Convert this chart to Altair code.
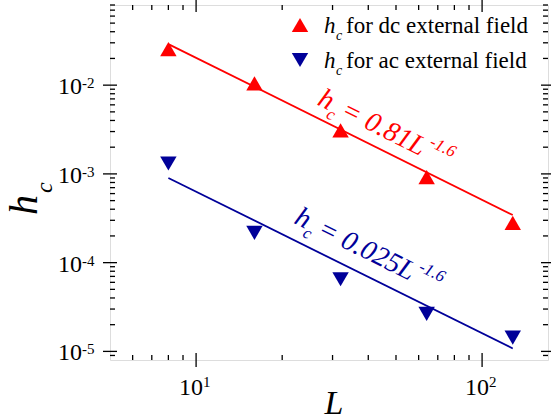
import altair as alt
import pandas as pd

# ---- data ----
L_vals = [8, 16, 32, 64, 128]
hc_dc = [0.0254, 0.0105, 0.0031, 0.00092, 0.00028]
hc_ac = [0.00131, 0.000216, 0.000065, 0.0000265, 0.0000143]
fit_L = [8, 128]
fit_dc = [0.029, 0.000344]
fit_ac = [0.0009, 0.0000108]

x_major = [10, 100]
x_exp = ["1", "2"]
x_minor = [6, 7, 8, 9, 20, 30, 40, 50, 60, 70, 80, 90]
y_major = [1e-5, 1e-4, 1e-3, 1e-2]
y_exp = ["-5", "-4", "-3", "-2"]
y_minor = ([9e-6] + [k * 1e-5 for k in range(2, 10)] + [k * 1e-4 for k in range(2, 10)]
           + [k * 1e-3 for k in range(2, 10)] + [k * 1e-2 for k in range(2, 9)])

legend_labels = ["for dc external field", "for ac external field"]
RED = "#ff0000"
BLUE = "#000099"
FONT = "Liberation Serif"

W, H = 438, 355
xs = alt.Scale(type="log", domain=[5, 170], nice=False)
ys = alt.Scale(type="log", domain=[8e-6, 0.08], nice=False)

def X(f):
    return alt.X(f, type="quantitative", scale=xs, axis=None)

def Y(f):
    return alt.Y(f, type="quantitative", scale=ys, axis=None)

df_pts = pd.DataFrame({"L": L_vals, "dc": hc_dc, "ac": hc_ac})
df_fit = pd.DataFrame({"L": fit_L, "dc": fit_dc, "ac": fit_ac})

layers = []
layers.append(alt.Chart(df_fit).mark_line(color=RED, strokeWidth=1.8).encode(x=X("L"), y=Y("dc")))
layers.append(alt.Chart(df_fit).mark_line(color=BLUE, strokeWidth=1.8).encode(x=X("L"), y=Y("ac")))
layers.append(alt.Chart(df_pts).mark_point(shape="triangle-up", filled=True, opacity=1, size=270, color=RED)
              .encode(x=X("L"), y=Y("dc")))
layers.append(alt.Chart(df_pts).mark_point(shape="triangle-down", filled=True, opacity=1, size=270, color=BLUE)
              .encode(x=X("L"), y=Y("ac")))

dfxM = pd.DataFrame({"v": x_major, "e": x_exp})
dfxm = pd.DataFrame({"v": x_minor})
dfyM = pd.DataFrame({"v": y_major, "e": y_exp})
dfym = pd.DataFrame({"v": y_minor})
tk = dict(color="black", strokeWidth=1.3)
for d, a, b in [(dfxM, H - 7, H + 7), (dfxm, H - 5, H), (dfxM, -7, 7), (dfxm, 0, 5)]:
    layers.append(alt.Chart(d).mark_rule(**tk).encode(x=X("v"), y=alt.value(a), y2=alt.value(b)))
for d, a, b in [(dfyM, -7, 7), (dfym, 0, 5), (dfyM, W - 7, W + 7), (dfym, W - 5, W)]:
    layers.append(alt.Chart(d).mark_rule(**tk).encode(y=Y("v"), x=alt.value(a), x2=alt.value(b)))

layers.append(alt.Chart(dfxM).mark_text(font=FONT, fontSize=24, align="right", baseline="alphabetic", dx=7)
              .encode(x=X("v"), y=alt.value(390), text=alt.value("10")))
layers.append(alt.Chart(dfxM).mark_text(font=FONT, fontSize=15, align="left", baseline="alphabetic", dx=7)
              .encode(x=X("v"), y=alt.value(382), text="e:N"))
layers.append(alt.Chart(dfyM).mark_text(font=FONT, fontSize=24, align="right", baseline="alphabetic", dy=9)
              .encode(y=Y("v"), x=alt.value(-28), text=alt.value("10")))
layers.append(alt.Chart(dfyM).mark_text(font=FONT, fontSize=15, align="left", baseline="alphabetic", dy=3)
              .encode(y=Y("v"), x=alt.value(-28), text="e:N"))

layers.append(alt.Chart().mark_text(font=FONT, fontSize=40, fontStyle="italic", align="left", baseline="alphabetic", angle=270)
              .encode(x=alt.value(-73), y=alt.value(210), text=alt.value("h")))
layers.append(alt.Chart().mark_text(font=FONT, fontSize=24, fontStyle="italic", align="left", baseline="alphabetic", angle=270)
              .encode(x=alt.value(-58), y=alt.value(188), text=alt.value("c")))
layers.append(alt.Chart().mark_text(font=FONT, fontSize=34, fontStyle="italic", align="center", baseline="alphabetic")
              .encode(x=alt.value(224), y=alt.value(409), text=alt.value("L")))

ANG = 26.5
def annotation(Lpos, hpos, color, main, sup_dx):
    d = pd.DataFrame({"L": [Lpos], "h": [hpos]})
    pieces = [("h", 28, 0, 0), ("c", 17, 14, 8), (main, 28, 26, 0), ("-1.6", 17, sup_dx, -13)]
    out = []
    for t, s, dx, dy in pieces:
        out.append(alt.Chart(d).mark_text(font=FONT, fontSize=s, fontStyle="italic", color=color,
                                          align="left", baseline="alphabetic", angle=ANG, dx=dx, dy=dy)
                   .encode(x=X("L"), y=Y("h"), text=alt.value(t)))
    return out

layers += annotation(26.3, 6.11e-3, RED, "= 0.81L", 119)
layers += annotation(21.8, 2.81e-4, BLUE, "= 0.025L", 133)

for i, (shape, col) in enumerate([("triangle-up", RED), ("triangle-down", BLUE)]):
    yb = 28 + 35 * i
    layers.append(alt.Chart().mark_point(shape=shape, filled=True, opacity=1, size=270, color=col)
                  .encode(x=alt.value(190), y=alt.value(yb - 8)))
    layers.append(alt.Chart().mark_text(font=FONT, fontSize=23, fontStyle="italic", align="left", baseline="alphabetic")
                  .encode(x=alt.value(214), y=alt.value(yb), text=alt.value("h")))
    layers.append(alt.Chart().mark_text(font=FONT, fontSize=14, fontStyle="italic", align="left", baseline="alphabetic")
                  .encode(x=alt.value(226), y=alt.value(yb + 7), text=alt.value("c")))
    layers.append(alt.Chart().mark_text(font=FONT, fontSize=23, align="left", baseline="alphabetic")
                  .encode(x=alt.value(236), y=alt.value(yb), text=alt.value(legend_labels[i])))

chart = alt.layer(*layers).properties(
    width=W, height=H,
    autosize=alt.AutoSizeParams(type="none"),
    padding={"left": 110, "top": 5, "right": 3, "bottom": 60},
).configure_view(stroke="black", strokeWidth=1.8).configure(background="white")

chart.save("out.html", embed_options={"renderer": "svg", "actions": False})
